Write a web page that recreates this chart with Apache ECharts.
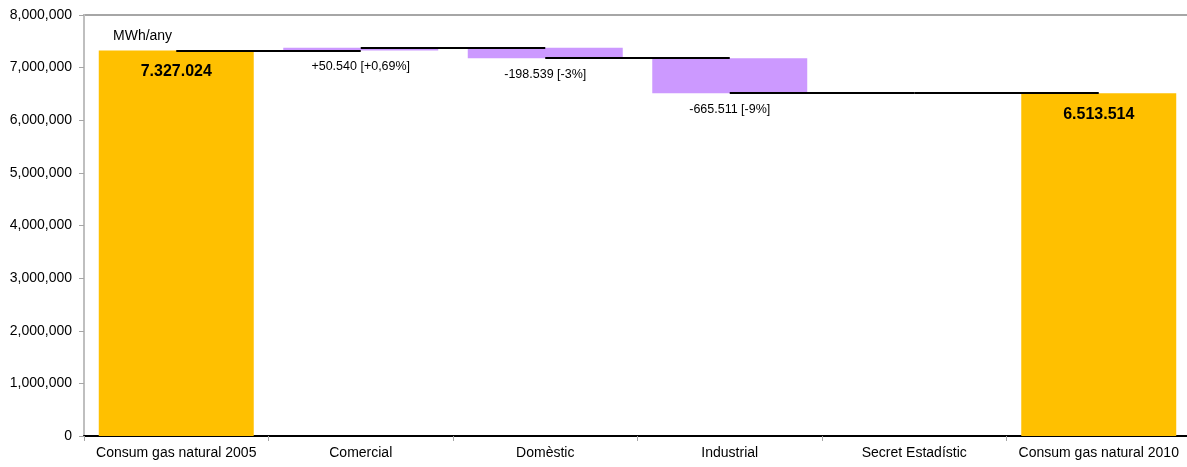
<!DOCTYPE html>
<html>
<head>
<meta charset="utf-8">
<script src="https://cdn.jsdelivr.net/npm/echarts@6/dist/echarts.min.js"></script>
<style>html,body{margin:0;padding:0;background:#fff}#c{width:1187px;height:467px}</style>
</head>
<body>
<div id="c"></div>
<script>
const categories = ['Consum gas natural 2005', 'Comercial', 'Domèstic', 'Industrial', 'Secret Estadístic', 'Consum gas natural 2010'];
const baseValues = [0, 7327024, 7179025, 6513514, 6513514, 0];
const barValues = [7327024, 50540, 198539, 665511, 0, 6513514];
const endLevels = [7327024, 7377564, 7179025, 6513514, 6513514];
const barLabels = ['7.327.024', '+50.540 [+0,69%]', '-198.539 [-3%]', '-665.511 [-9%]', '', '6.513.514'];
const isTotal = [true, false, false, false, false, true];
const yTicks = [0, 1000000, 2000000, 3000000, 4000000, 5000000, 6000000, 7000000, 8000000];

const font = '"Liberation Sans", Arial, sans-serif';
const chart = echarts.init(document.getElementById('c'));

const connectors = endLevels.map((v, i) => [
  { coord: [categories[i], v] },
  { coord: [categories[i + 1], v] }
]);

chart.setOption({
  animation: false,
  textStyle: { fontFamily: font },
  title: {
    text: 'MWh/any', left: 108, top: 24,
    textStyle: { fontSize: 14, fontWeight: 'normal', color: '#000', fontFamily: font }
  },
  grid: {
    left: 84, width: 1107, top: 15, bottom: 31,
    outerBoundsMode: 'none', containLabel: false,
    show: true, borderColor: '#A6A6A6', borderWidth: 2, backgroundColor: 'transparent'
  },
  xAxis: {
    type: 'category', data: categories,
    axisLine: { lineStyle: { color: '#000', width: 2 } },
    axisTick: { show: true, length: 5, lineStyle: { color: '#A6A6A6' } },
    axisLabel: { color: '#000', fontSize: 14, margin: 10, fontFamily: font, interval: 0 },
    splitLine: { show: false }
  },
  yAxis: {
    type: 'value', min: 0, max: 8000000, interval: 1000000,
    axisLine: { show: true, lineStyle: { color: '#BFBFBF', width: 2 } },
    axisTick: { show: true, length: 5, lineStyle: { color: '#A6A6A6' } },
    axisLabel: { color: '#000', fontSize: 14, margin: 12, fontFamily: font,
      formatter: v => yTicks.includes(v) ? v.toLocaleString('en-US') : '' },
    splitLine: { show: false }
  },
  series: [
    {
      type: 'bar', stack: 'w', barCategoryGap: '16%',
      itemStyle: { color: 'transparent' },
      emphasis: { disabled: true },
      data: baseValues
    },
    {
      type: 'bar', stack: 'w', barCategoryGap: '16%',
      emphasis: { disabled: true },
      data: barValues.map((v, i) => ({
        value: v,
        itemStyle: { color: isTotal[i] ? '#FFC000' : '#CC99FF' },
        label: isTotal[i]
          ? { show: true, position: 'insideTop', distance: 13, fontSize: 16, fontWeight: 'bold', color: '#000', formatter: barLabels[i] }
          : { show: barLabels[i] !== '', position: 'bottom', distance: 10, fontSize: 12.5, color: '#000', formatter: barLabels[i] }
      })),
      markLine: {
        silent: true, symbol: 'none', animation: false,
        label: { show: false },
        lineStyle: { color: '#000', width: 2, type: 'solid' },
        data: connectors
      }
    }
  ]
});
</script>
</body>
</html>
